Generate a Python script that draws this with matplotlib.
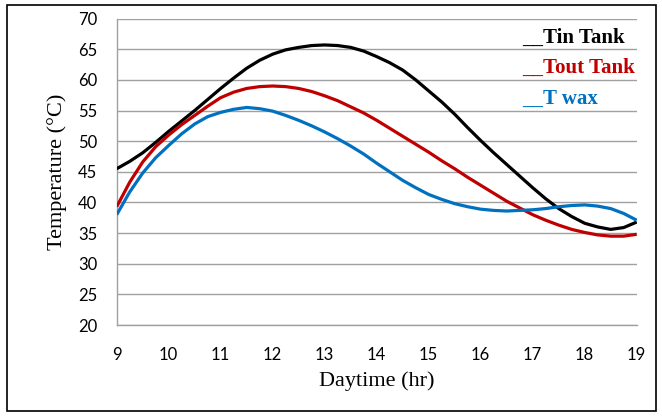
import matplotlib
matplotlib.use('Agg')
import matplotlib.pyplot as plt
from matplotlib.patches import Rectangle

# quarter-hour steps
hours = [9.0, 9.25, 9.5, 9.75, 10.0, 10.25, 10.5, 10.75, 11.0, 11.25, 11.5,
         11.75, 12.0, 12.25, 12.5, 12.75, 13.0, 13.25, 13.5, 13.75, 14.0,
         14.25, 14.5, 14.75, 15.0, 15.25, 15.5, 15.75, 16.0, 16.25, 16.5,
         16.75, 17.0, 17.25, 17.5, 17.75, 18.0, 18.25, 18.5, 18.75, 19.0]
t_in_tank = [45.5, 46.7, 48.1, 49.8, 51.6, 53.3, 55.0, 56.8, 58.6, 60.3, 61.9,
             63.2, 64.2, 64.9, 65.3, 65.6, 65.7, 65.6, 65.3, 64.7, 63.8,
             62.8, 61.6, 60.0, 58.2, 56.4, 54.4, 52.2, 50.1, 48.1, 46.2,
             44.3, 42.4, 40.6, 39.0, 37.7, 36.6, 36.0, 35.6, 35.9, 36.8]
t_out_tank = [39.3, 43.3, 46.6, 49.1, 51.0, 52.7, 54.2, 55.7, 57.1, 58.0, 58.6,
              58.9, 59.0, 58.9, 58.6, 58.1, 57.4, 56.6, 55.6, 54.6, 53.4,
              52.1, 50.8, 49.5, 48.2, 46.8, 45.5, 44.1, 42.8, 41.5, 40.2,
              39.1, 38.0, 37.1, 36.3, 35.6, 35.1, 34.7, 34.5, 34.5, 34.8]
t_wax = [38.0, 41.7, 44.8, 47.3, 49.3, 51.2, 52.8, 54.0, 54.7, 55.2, 55.5,
         55.3, 54.9, 54.2, 53.4, 52.5, 51.5, 50.4, 49.2, 47.9, 46.4,
         45.0, 43.6, 42.4, 41.3, 40.5, 39.8, 39.3, 38.9, 38.7, 38.6,
         38.7, 38.8, 39.0, 39.3, 39.5, 39.6, 39.4, 39.0, 38.2, 37.1]

series_names = ['__Tin Tank', '__Tout Tank', '__T wax']
series_colors = ['#000000', '#C00000', '#0070C0']
x_ticks = list(range(9, 20))
y_ticks = list(range(20, 75, 5))

fig = plt.figure(figsize=(6.62, 4.16), dpi=100)
ax = fig.add_axes([116.7/662, 1-325/416, 520/662, (325-18.6)/416])

for vals, c in zip([t_in_tank, t_out_tank, t_wax], series_colors):
    ax.plot(hours, vals, color=c, lw=2.3, solid_joinstyle='round',
            solid_capstyle='butt', zorder=3)

ax.set_xlim(9, 19)
ax.set_ylim(20, 70)
ax.set_xticks(x_ticks)
ax.set_yticks(y_ticks)
ax.yaxis.grid(True, color='#A0A0A0', lw=1.0, zorder=0)
ax.set_axisbelow(True)
for s in ['top', 'right']:
    ax.spines[s].set_visible(False)
for s in ['left', 'bottom']:
    ax.spines[s].set_color('#A0A0A0')
    ax.spines[s].set_linewidth(1.0)
ax.tick_params(length=0, labelsize=12)
ax.tick_params(axis='y', pad=14)
ax.tick_params(axis='x', pad=16)
for lab in ax.get_xticklabels() + ax.get_yticklabels():
    lab.set_family('Lato')

ax.set_xlabel('Daytime (hr)', family='Liberation Serif', fontsize=16, labelpad=6)
ax.set_ylabel('Temperature (\u00b0C)', family='Liberation Serif', fontsize=16, labelpad=8)

# legend written as coloured text like in the source
for i, (name, c) in enumerate(zip(series_names, series_colors)):
    ax.text(0.779, 0.921 - i*0.0995, name, transform=ax.transAxes, color=c,
            family='Liberation Serif', fontweight='bold', fontsize=15,
            va='baseline', ha='left')

fig.patches.append(Rectangle((6.5/662, 5/416), 649/662, 406/416, fill=False,
                             edgecolor='black', lw=1.2, transform=fig.transFigure))

fig.savefig('out.png', dpi=100)
